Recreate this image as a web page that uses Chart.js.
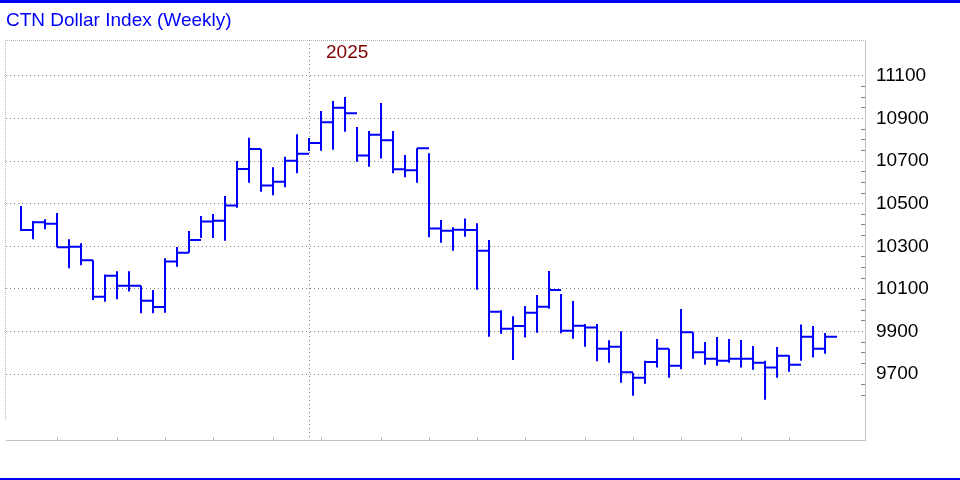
<!DOCTYPE html>
<html>
<head>
<meta charset="utf-8">
<script src="https://cdn.jsdelivr.net/npm/chart.js@4.4.1/dist/chart.umd.min.js"></script>
<style>
  html, body { margin: 0; padding: 0; background: #fff; }
  #wrap { width: 960px; height: 480px; }
</style>
</head>
<body>
<div id="wrap"><canvas id="myChart"></canvas></div>
<script>
/* weekly bars: index 0 = first week on the chart */
var highs = [10489,10419,10427,10456,10333,10314,10234,10167,10183,10183,
             10115,10095,10244,10297,10372,10442,10452,10536,10701,10810,
             10757,10671,10720,10826,10809,10936,10983,11001,10860,10842,
             10973,10842,10729,10760,10737,10424,10389,10431,10408,10330,
             9999,9971,10020,10071,10184,10076,10043,9935,9935,9858,
             9901,9706,9762,9864,9819,10005,9896,9850,9874,9864,
             9860,9832,9762,9827,9788,9932,9926,9893];
var lows = [10372,10333,10380,10295,10197,10211,10048,10040,10051,10087,
            9985,9985,9988,10204,10270,10339,10339,10326,10481,10599,
            10556,10540,10577,10643,10748,10749,10754,10838,10697,10674,
            10712,10643,10624,10599,10342,10317,10279,10345,10096,9875,
            9889,9766,9871,9894,10007,9891,9866,9828,9760,9753,
            9659,9598,9654,9730,9683,9722,9772,9744,9739,9753,
            9730,9720,9579,9683,9711,9762,9777,9795];
var closes = [10377,10413,10406,10295,10298,10234,10063,10162,10115,10115,
              10044,10015,10228,10270,10330,10416,10420,10491,10663,10757,
              10585,10603,10702,10735,10785,10883,10951,10925,10726,10824,
              10798,10662,10657,10760,10383,10373,10378,10377,10279,9993,
              9913,9926,9988,10016,10095,9903,9927,9918,9819,9828,
              9708,9683,9756,9819,9739,9896,9802,9772,9762,9772,
              9772,9753,9730,9786,9744,9875,9819,9875];

var monthTicks = [3, 8, 12, 16, 21, 25, 30, 34, 38, 42, 47, 51, 55, 60, 64];
var yearStart = 24;
var yearLabel = '2025';
var yLabels = [9700, 9900, 10100, 10300, 10500, 10700, 10900, 11100];
var yMinorFrom = 9600, yMinorTo = 11100, yMinorStep = 50;

Chart.defaults.font.family = '"Liberation Sans", Arial, sans-serif';

// high-low verticals and close ticks, broken with null points
var rangeData = [];
var closeData = [];
for (var i = 0; i < highs.length; i++) {
  rangeData.push({x: i, y: lows[i]}, {x: i, y: highs[i]}, {x: i, y: null});
  closeData.push({x: i, y: closes[i]}, {x: i + 1, y: closes[i]}, {x: i + 1, y: null});
}

var framePlugin = {
  id: 'frame',
  beforeDraw: function(chart) {
    var ctx = chart.ctx, a = chart.chartArea;
    ctx.save();
    ctx.fillStyle = '#fff';
    ctx.fillRect(0, 0, chart.width, chart.height);
    ctx.fillStyle = '#0000ff';
    ctx.fillRect(0, 0, chart.width, 3);
    ctx.fillRect(0, chart.height - 2, chart.width, 2);
    ctx.strokeStyle = '#b4b4b4';
    ctx.lineWidth = 1;
    ctx.setLineDash([1, 1]);
    ctx.beginPath();
    ctx.moveTo(a.left - 1, a.top + 0.5);
    ctx.lineTo(a.right, a.top + 0.5);
    ctx.moveTo(a.left - 0.5, a.top);
    ctx.lineTo(a.left - 0.5, a.bottom - 20);
    ctx.stroke();
    ctx.restore();
  },
  afterDraw: function(chart) {
    var ctx = chart.ctx;
    var x = chart.scales.x.getPixelForValue(yearStart) + 17;
    ctx.save();
    ctx.fillStyle = '#800000';
    ctx.font = '19px "Liberation Sans", Arial, sans-serif';
    ctx.textAlign = 'left';
    ctx.textBaseline = 'middle';
    ctx.fillText(yearLabel, x, chart.chartArea.top + 13);
    ctx.restore();
  }
};

var ctx1 = document.getElementById('myChart').getContext('2d');
window.myBar = new Chart(ctx1, {
  type: 'line',
  data: {
    datasets: [
      {
        label: 'range',
        data: rangeData,
        borderColor: '#0000ff',
        borderWidth: 2,
        pointRadius: 0,
        spanGaps: false,
        tension: 0
      },
      {
        label: 'close',
        data: closeData,
        borderColor: '#0000ff',
        borderWidth: 2,
        pointRadius: 0,
        spanGaps: false,
        tension: 0
      }
    ]
  },
  plugins: [framePlugin],
  options: {
    animation: false,
    responsive: true,
    maintainAspectRatio: false,
    events: [],
    layout: { padding: { left: 6, top: 0, right: 0, bottom: 0 } },
    plugins: {
      legend: { display: false },
      tooltip: { enabled: false },
      title: {
        display: true,
        text: 'CTN Dollar Index (Weekly)',
        align: 'start',
        color: '#0000ff',
        font: { size: 19, weight: 'normal' },
        padding: { top: 9, bottom: 8.2 }
      }
    },
    scales: {
      x: {
        type: 'linear',
        position: 'bottom',
        min: -1.25,
        max: 70.33,
        afterBuildTicks: function(scale) {
          scale.ticks = monthTicks.concat([yearStart]).map(function(v) { return {value: v}; });
        },
        afterFit: function(scale) { scale.height = 40; },
        border: { display: true, color: '#c0c0c0', width: 1, dash: [1, 3] },
        grid: {
          color: function(c) { return c.tick && c.tick.value === yearStart ? '#808080' : 'rgba(0,0,0,0)'; },
          tickColor: function(c) { return c.tick && c.tick.value === yearStart ? 'rgba(0,0,0,0)' : '#c0c0c0'; },
          tickLength: -3,
          tickBorderDash: [],
          lineWidth: 1
        },
        ticks: { display: false, autoSkip: false }
      },
      y: {
        type: 'linear',
        position: 'right',
        min: 9390,
        max: 11269,
        afterBuildTicks: function(scale) {
          var t = [];
          for (var v = yMinorFrom; v <= yMinorTo; v += yMinorStep) t.push({value: v});
          scale.ticks = t;
        },
        afterFit: function(scale) { scale.width = 95; },
        border: { display: true, color: '#c0c0c0', width: 1, dash: [1, 3] },
        grid: {
          color: function(c) { return c.tick && yLabels.indexOf(c.tick.value) >= 0 ? '#808080' : 'rgba(0,0,0,0)'; },
          tickColor: function(c) { return c.tick && yLabels.indexOf(c.tick.value) >= 0 ? 'rgba(0,0,0,0)' : '#808080'; },
          tickLength: -4,
          tickBorderDash: [],
          lineWidth: 1
        },
        ticks: {
          autoSkip: false,
          color: '#000',
          padding: 15,
          font: { size: 19 },
          callback: function(v) { return yLabels.indexOf(v) >= 0 ? String(v) : ''; }
        }
      }
    }
  }
});
</script>
</body>
</html>
